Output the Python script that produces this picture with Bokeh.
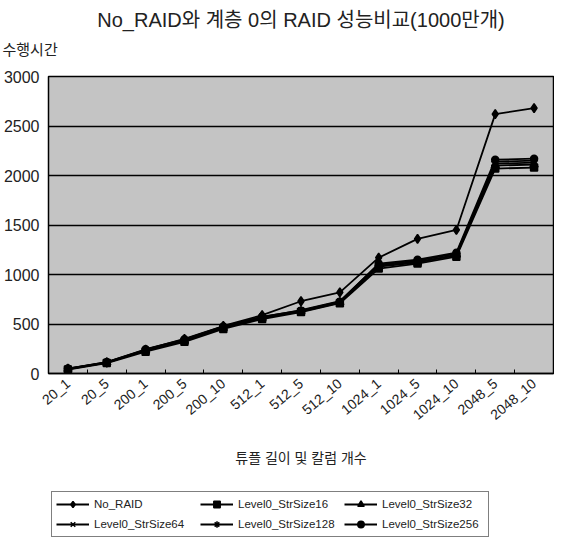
from bokeh.plotting import figure
from bokeh.layouts import column
from bokeh.models import (Range1d, FixedTicker, Legend, LegendItem, Title)
from bokeh.embed import file_html
from bokeh.resources import INLINE

categories = ["20_1", "20_5", "200_1", "200_5", "200_10", "512_1", "512_5",
              "512_10", "1024_1", "1024_5", "1024_10", "2048_5", "2048_10"]

no_raid = [50, 110, 240, 350, 480, 590, 730, 820, 1170, 1360, 1450, 2620, 2680]
str16 = [40, 105, 220, 320, 450, 550, 620, 710, 1060, 1110, 1180, 2070, 2080]
str32 = [45, 110, 230, 330, 460, 560, 630, 720, 1080, 1120, 1200, 2100, 2110]
str64 = [50, 115, 240, 340, 470, 570, 640, 730, 1100, 1140, 1210, 2120, 2130]
str128 = [45, 110, 235, 335, 465, 565, 625, 715, 1090, 1130, 1190, 2140, 2150]
str256 = [50, 115, 245, 345, 475, 575, 635, 725, 1110, 1150, 1220, 2160, 2170]

series_names = ["No_RAID", "Level0_StrSize16", "Level0_StrSize32",
                "Level0_StrSize64", "Level0_StrSize128", "Level0_StrSize256"]
series_values = [no_raid, str16, str32, str64, str128, str256]
markers = ["diamond", "square", "triangle", "x", "asterisk", "circle"]
marker_sizes = [9, 7, 8, 8, 8, 7]

y_ticks = [0, 500, 1000, 1500, 2000, 2500, 3000]

title_text = "No_RAID와 계층 0의 RAID 성능비교(1000만개)"
y_label = "수행시간"
x_label = "튜플 길이 및 칼럼 개수"

FONT = "Liberation Sans, Noto Sans CJK KR"
TXT = "#222222"

xs = list(range(len(categories)))

p = figure(frame_width=505, frame_height=297, output_backend="svg",
           toolbar_location=None, title=title_text,
           x_range=Range1d(-0.5, len(categories) - 0.5), y_range=Range1d(0, 3000),
           min_border_left=46, min_border_right=1, min_border_top=76,
           min_border_bottom=115)

p.title.align = "center"
p.title.offset = -20
p.title.text_font = FONT
p.title.text_font_size = "20px"
p.title.text_font_style = "normal"
p.title.text_color = TXT
p.title.standoff = -22

ylab_title = Title(text=y_label, align="left", offset=-46,
                   text_font=FONT, text_font_size="15px",
                   text_font_style="normal", text_color=TXT, standoff=38)
p.add_layout(ylab_title, "above")

p.background_fill_color = "#c4c4c4"
p.border_fill_color = "white"
p.outline_line_color = "black"
p.outline_line_width = 1.5

p.xgrid.grid_line_color = None
p.ygrid.grid_line_color = "black"
p.ygrid.grid_line_width = 1.5
p.ygrid.ticker = FixedTicker(ticks=y_ticks)

p.yaxis.ticker = FixedTicker(ticks=y_ticks)
p.yaxis.axis_line_color = None
p.yaxis.major_tick_line_color = None
p.yaxis.minor_tick_line_color = None
p.yaxis.major_tick_out = 0
p.yaxis.major_label_standoff = 9
p.yaxis.major_label_text_font = FONT
p.yaxis.major_label_text_font_size = "16px"
p.yaxis.major_label_text_color = TXT

boundaries = [i + 0.5 for i in range(len(categories) - 1)]
p.xaxis.ticker = FixedTicker(ticks=xs, minor_ticks=boundaries)
p.xaxis.major_label_overrides = {i: c for i, c in enumerate(categories)}
p.xaxis.major_tick_line_color = None
p.xaxis.major_tick_in = 0
p.xaxis.major_tick_out = 0
p.xaxis.minor_tick_line_color = "black"
p.xaxis.minor_tick_in = 4
p.xaxis.minor_tick_out = 0
p.xaxis.axis_line_color = "black"
p.xaxis.axis_line_width = 1.5
p.xaxis.major_label_orientation = 0.7
p.xaxis.major_label_standoff = 8
p.xaxis.major_label_text_font = FONT
p.xaxis.major_label_text_font_size = "14px"
p.xaxis.major_label_text_color = TXT
p.xaxis.axis_label = x_label
p.xaxis.axis_label_text_font = FONT
p.xaxis.axis_label_text_font_size = "14px"
p.xaxis.axis_label_text_font_style = "normal"
p.xaxis.axis_label_text_color = TXT
p.xaxis.axis_label_standoff = 18

for name, vals, mk, ms in zip(series_names, series_values, markers, marker_sizes):
    p.line(xs, vals, line_color="black", line_width=1.8)
    p.scatter(xs, vals, marker=mk, size=ms, fill_color="black",
              line_color="black", line_width=1.5)

# legend strip below the chart (series drawn out of view, only the key shows)
leg = figure(width=552, height=52, output_backend="svg", toolbar_location=None,
             x_range=Range1d(-0.5, len(categories) - 0.5),
             y_range=Range1d(5000, 6000),
             x_axis_location=None, y_axis_location=None,
             min_border=0, outline_line_color=None)
leg.xgrid.grid_line_color = None
leg.ygrid.grid_line_color = None
leg.background_fill_color = "white"
items = []
for name, vals, mk, ms in zip(series_names, series_values, markers, marker_sizes):
    r1 = leg.line(xs, vals, line_color="black", line_width=1.8)
    r2 = leg.scatter(xs, vals, marker=mk, size=ms, fill_color="black",
                     line_color="black", line_width=1.5)
    items.append(LegendItem(label=name, renderers=[r1, r2]))

legend = Legend(items=items, orientation="horizontal", ncols=3,
                location="top_left", margin=3, padding=4, spacing=4,
                glyph_width=33, glyph_height=16, label_height=16,
                label_width=102, label_standoff=5,
                label_text_font=FONT, label_text_font_size="11.5px",
                label_text_color=TXT,
                border_line_color="black", border_line_width=1.5,
                background_fill_color="white", background_fill_alpha=1.0)
leg.add_layout(legend, "center")

layout = column(p, leg, spacing=0)

open("out.html", "w").write(file_html(layout, INLINE))
